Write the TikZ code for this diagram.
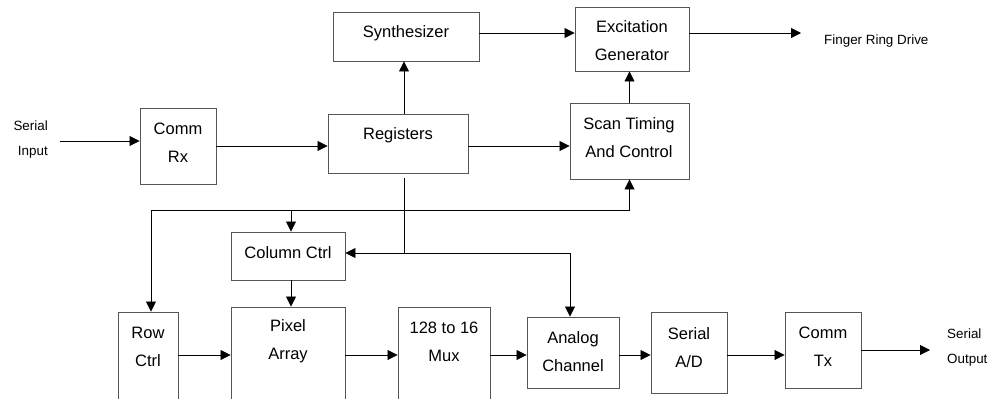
\documentclass[tikz,border=0pt]{standalone}
\usepackage{fontspec}
\setmainfont{Liberation Sans}
\usetikzlibrary{arrows.meta}
\definecolor{boxgray}{RGB}{85,85,85}
\tikzset{
  box/.style={draw=boxgray, line width=0.9pt, inner sep=0pt, fill=white},
  boxtxt/.style={inner sep=0pt, align=center, font=\fontsize{16.5}{28}\selectfont},
  iolbl/.style={inner sep=0pt, font=\fontsize{13.4}{25}\selectfont},
  wire/.style={line width=0.8pt, black},
  arr/.style={wire, -{Triangle[length=10pt,width=10pt]}},
}
\begin{document}
\begin{tikzpicture}[x=1pt, y=-1pt]
\useasboundingbox (0,0) rectangle (997,399);
\clip (0,0) rectangle (997,399);
\fill[white] (0,0) rectangle (997,399);

% blocks
\node[box, minimum width=76pt,  minimum height=76pt] (rx)   at (178,146)   {};
\node[box, minimum width=140pt, minimum height=59pt] (reg)  at (398,143.5) {};
\node[box, minimum width=146pt, minimum height=49pt] (syn)  at (406,36.5)  {};
\node[box, minimum width=114pt, minimum height=64pt] (exc)  at (632,39)    {};
\node[box, minimum width=119pt, minimum height=76pt] (scan) at (629.5,141) {};
\node[box, minimum width=114pt, minimum height=48pt] (col)  at (288,256)   {};
\node[box, minimum width=60pt,  minimum height=93pt] (row)  at (148,358.5) {};
\node[box, minimum width=114pt, minimum height=98pt] (pix)  at (288,356)   {};
\node[box, minimum width=92pt,  minimum height=98pt] (mux)  at (444,356)   {};
\node[box, minimum width=92pt,  minimum height=71pt] (ana)  at (573,352.5) {};
\node[box, minimum width=76pt,  minimum height=81pt] (ad)   at (689,352.5) {};
\node[box, minimum width=76pt,  minimum height=76pt] (tx)   at (823,350)   {};

% block captions
\node[boxtxt] (rx-t)   at (178,142.5) {Comm\\Rx};
\node[boxtxt] (reg-t)  at (398,135)   {Registers};
\node[boxtxt] (syn-t)  at (406,33)    {Synthesizer};
\node[boxtxt] (exc-t)  at (632,40.5)  {Excitation\\Generator};
\node[boxtxt] (scan-t) at (629,137.5) {Scan Timing\\And Control};
\node[boxtxt] (col-t)  at (288,253)   {Column Ctrl};
\node[boxtxt] (row-t)  at (148,346.5) {Row\\Ctrl};
\node[boxtxt] (pix-t)  at (288,341.5) {Pixel\\Array};
\node[boxtxt] (mux-t)  at (444,341.5) {128 to 16\\Mux};
\node[boxtxt] (ana-t)  at (573,351.5) {Analog\\Channel};
\node[boxtxt] (ad-t)   at (689,347.5) {Serial\\A/D};
\node[boxtxt] (tx-t)   at (823,347)   {Comm\\Tx};

% external signal labels
\node[iolbl, align=right, anchor=east] (sin-t)  at (48,139.5) {Serial\\Input};
\node[iolbl, anchor=west]              (frd-t)  at (824,41)   {Finger Ring Drive};
\node[iolbl, align=left, anchor=west]  (sout-t) at (947,348)  {Serial\\Output};

% free ends and junctions
\coordinate (sin)   at (60,141);
\coordinate (frd)   at (801,33);
\coordinate (sout)  at (930,350);
\coordinate (busx)  at (404,178);
\coordinate (busj)  at (404,253);
\coordinate (loopL) at (151,210);
\coordinate (sig)   at (0,355);

% input path
\draw[arr] (sin) -- (sin -| rx.west);
\draw[arr] (rx.east) -- (rx.east -| reg.west);
\draw[arr] (reg.north -| busx) -- (syn.south -| busx);
\draw[arr] ([yshift=-2.5pt]reg.east) -- ([yshift=-2.5pt]reg.east -| scan.west);
\draw[arr] ([yshift=3.5pt]syn.east) -- ([yshift=3.5pt]syn.east -| exc.west);
\draw[arr] ([yshift=6pt]exc.east) -- (frd);
\draw[arr] (scan.north) -- (scan.north |- exc.south);

% control loop
\draw[arr] (loopL) -- (loopL -| scan.south) -- (scan.south);
\draw[arr] (loopL) -- (loopL |- row.north);
\draw[arr] ([xshift=3pt]col.north |- loopL) -- ([xshift=3pt]col.north);
\draw[arr] ([xshift=3pt]col.south) -- ([xshift=3pt]pix.north);

% register bus
\draw[wire] (busx) -- (busj);
\draw[arr] (busj) -- (busj -| col.east);
\draw[arr] (busj) -| ([xshift=-3pt]ana.north);

% signal chain
\draw[arr] (row.east |- sig) -- (pix.west |- sig);
\draw[arr] (pix.east |- sig) -- (mux.west |- sig);
\draw[arr] (mux.east |- sig) -- (ana.west |- sig);
\draw[arr] (ana.east |- sig) -- (ad.west |- sig);
\draw[arr] (ad.east |- sig) -- (tx.west |- sig);
\draw[arr] (tx.east) -- (sout);
\end{tikzpicture}
\end{document}
